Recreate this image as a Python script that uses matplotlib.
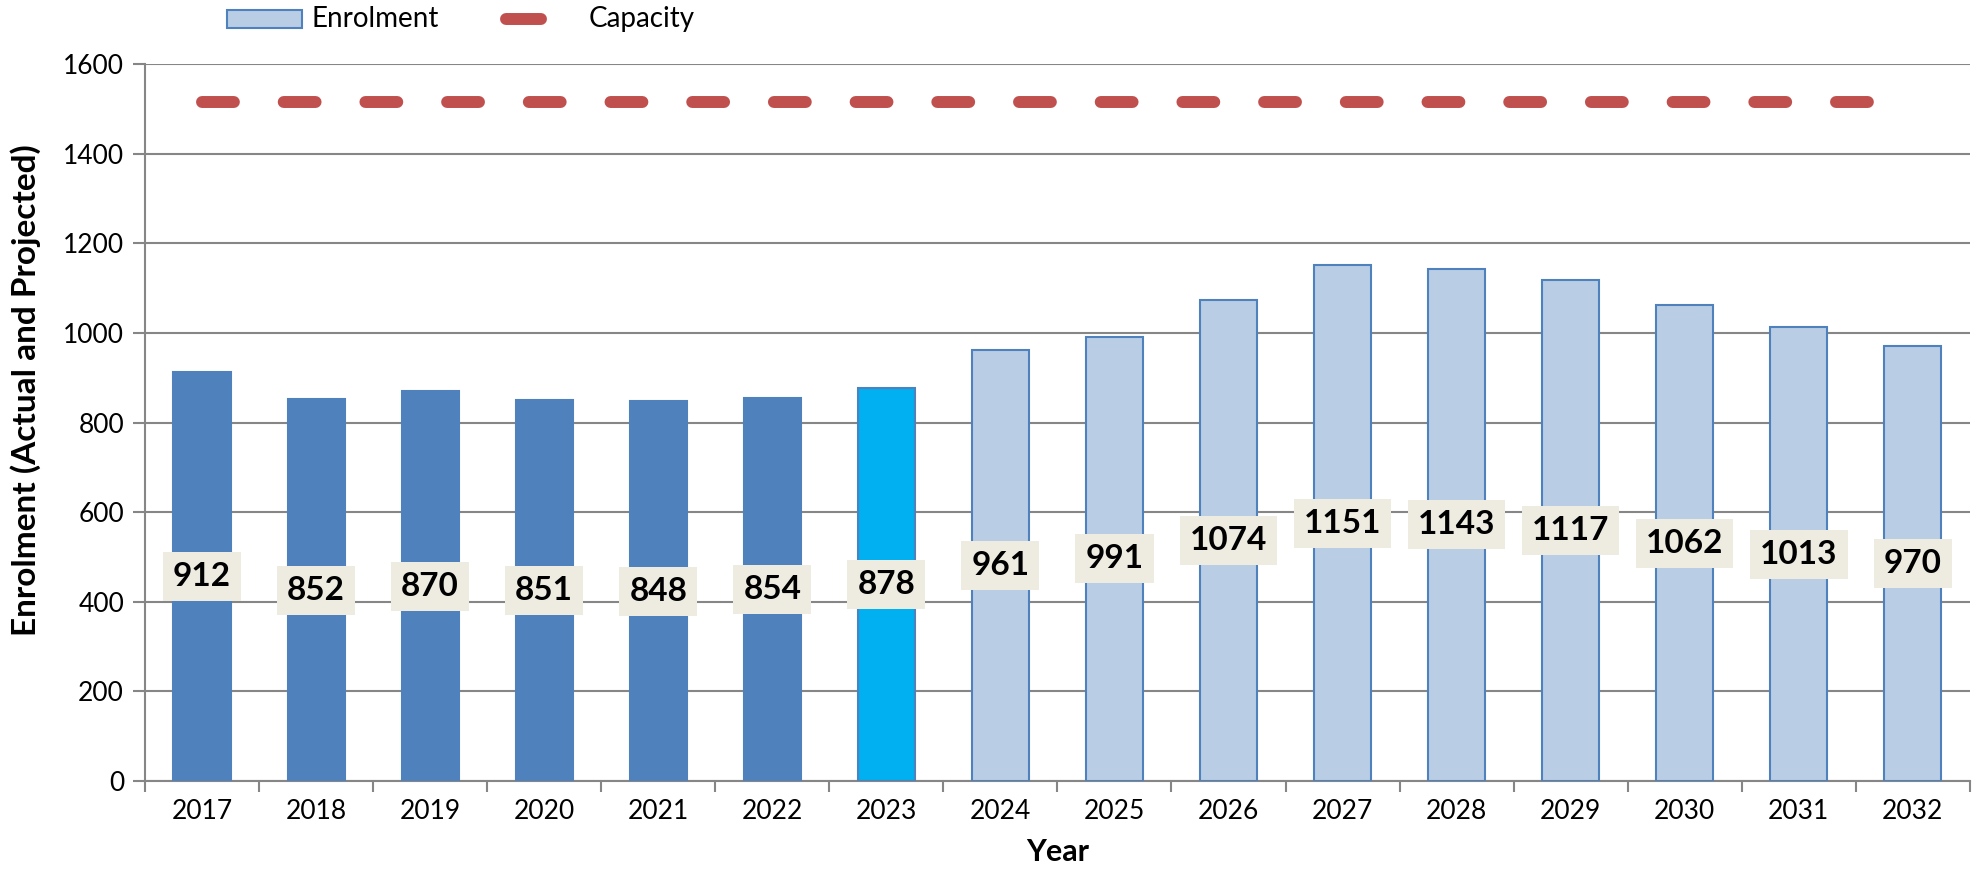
import matplotlib
matplotlib.use("Agg")
import matplotlib.pyplot as plt
from matplotlib.patches import Rectangle
from matplotlib.lines import Line2D

# ---- data ----
years = [str(y) for y in range(2017, 2033)]
enrolment = [912, 852, 870, 851, 848, 854, 878, 961, 991, 1074, 1151, 1143, 1117, 1062, 1013, 970]
capacity = [1515] * 16
status = ["actual"] * 6 + ["current"] + ["projected"] * 9
y_ticks = [0, 200, 400, 600, 800, 1000, 1200, 1400, 1600]
legend_labels = ["Enrolment", "Capacity"]

# ---- style ----
plt.rcParams['font.family'] = ['Lato', 'DejaVu Sans']
face = {"actual": "#4F81BD", "current": "#00B0F0", "projected": "#B9CDE5"}
edge = {"actual": "#4F81BD", "current": "#4F81BD", "projected": "#4F81BD"}
grid_c = "#868686"
cap_c = "#C0504D"

W, H = 1983, 883
fig = plt.figure(figsize=(W / 100, H / 100), dpi=100)
ax = fig.add_axes([0.0731, 0.1155, 0.9203, 0.812])

x = list(range(len(years)))
ax.bar(x, enrolment, width=0.5,
       color=[face[s] for s in status],
       edgecolor=[edge[s] for s in status], linewidth=1.5, zorder=3)

ax.plot(x, capacity, color=cap_c, linewidth=8.6, solid_capstyle='round',
        dash_capstyle='round', linestyle=(0, (2.67, 4.17)), zorder=4)

for xi, v in zip(x, enrolment):
    ax.text(xi, v / 2, str(v), ha='center', va='center', fontsize=24,
            fontweight='bold', color='black', zorder=5,
            bbox=dict(boxstyle='square,pad=0.3', facecolor='#EEECE1',
                      edgecolor='none'))

ax.set_xlim(-0.5, len(years) - 0.5)
ax.set_ylim(0, 1600)
ax.set_yticks(y_ticks)
ax.set_yticklabels([str(t) for t in y_ticks], fontsize=19)
ax.set_xticks(x)
ax.set_xticklabels(years, fontsize=19)
ax.set_xticks([i - 0.5 for i in range(len(years) + 1)], minor=True)
ax.tick_params(axis='x', which='major', length=0, pad=13)
ax.tick_params(axis='x', which='minor', length=8, width=1.5, color=grid_c, direction='out')
ax.tick_params(axis='y', which='major', length=9, width=1.5, color=grid_c, direction='out', pad=6)

ax.yaxis.grid(True, color=grid_c, linewidth=1.5, zorder=0)
ax.set_axisbelow(True)
for s in ['top', 'right']:
    ax.spines[s].set_visible(False)
for s in ['left', 'bottom']:
    ax.spines[s].set_color(grid_c)
    ax.spines[s].set_linewidth(1.5)

def fx(px):
    return px / W

def fy(py):
    return 1 - py / H

ax.set_xlabel("Year", fontsize=22, fontweight='bold', labelpad=10)
fig.text(fx(26), fy(390), "Enrolment (Actual and Projected)", fontsize=24,
         fontweight='bold', rotation=90, ha='center', va='center')

# ---- manual legend (figure pixel coords from top-left) ----
fig.add_artist(Rectangle((fx(227), fy(28)), fx(302) - fx(227), fy(10) - fy(28),
                         transform=fig.transFigure, facecolor=face["projected"],
                         edgecolor="#4F81BD", linewidth=1.5))
fig.text(fx(312), fy(19), legend_labels[0], fontsize=20, va='center', ha='left')
fig.add_artist(Line2D([fx(506), fx(541)], [fy(19), fy(19)], transform=fig.transFigure,
                      color=cap_c, linewidth=8.6, solid_capstyle='round'))
fig.text(fx(589), fy(19), legend_labels[1], fontsize=20, va='center', ha='left')

fig.savefig("out.png", dpi=100)
